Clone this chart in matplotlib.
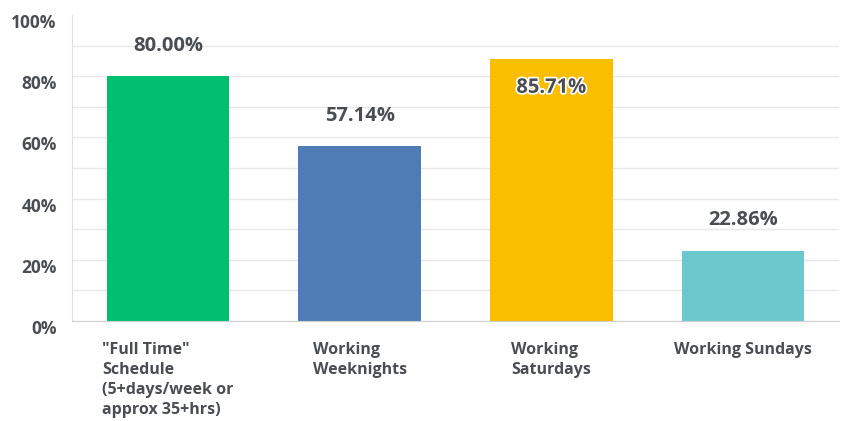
import matplotlib
matplotlib.use("Agg")
import matplotlib.pyplot as plt
import matplotlib.transforms as mtransforms
from matplotlib import patheffects

# Share of respondents per schedule category
categories = [
    '"Full Time"\nSchedule\n(5+days/week or\napprox 35+hrs)',
    "Working\nWeeknights",
    "Working\nSaturdays",
    "Working Sundays",
]
values = [80.00, 57.14, 85.71, 22.86]
colors = ["#00bf6f", "#507cb6", "#f9be00", "#6bc8cd"]
y_ticks = [0, 20, 40, 60, 80, 100]

plt.rcParams["font.family"] = ["Open Sans", "DejaVu Sans"]
text_color = "#4a4d52"

fig = plt.figure(figsize=(8.45, 4.21), dpi=100)
ax = fig.add_axes([72 / 845, 100 / 421, 767 / 845, 306 / 421])

x = range(len(values))
ax.bar(x, values, width=0.64, color=colors, zorder=2)

ax.set_xlim(-0.5, len(values) - 0.5)
ax.set_ylim(0, 100)

# light gridlines every 10%, labels every 20%
ax.set_yticks(y_ticks)
ax.set_yticks(range(10, 100, 20), minor=True)
ax.set_yticklabels([f"{t}%" for t in y_ticks])
ax.grid(axis="y", which="both", color="#e8e8e8", linewidth=1, zorder=0)
ax.yaxis.get_gridlines()[-1].set_visible(False)
ax.tick_params(axis="y", which="both", length=0, pad=11,
               labelsize=12.5, labelcolor=text_color)
shift = mtransforms.ScaledTranslation(0, -6 / 100, fig.dpi_scale_trans)
for lbl in ax.get_yticklabels():
    lbl.set_fontweight("bold")
    lbl.set_transform(lbl.get_transform() + shift)

ax.set_xticks(list(x))
ax.set_xticklabels(categories, fontsize=11.5, fontweight="bold",
                   color=text_color, ha="center", va="top",
                   multialignment="left", linespacing=1.33)
ax.tick_params(axis="x", length=0, pad=15)

for side in ("top", "right"):
    ax.spines[side].set_visible(False)
ax.spines["left"].set_color("#e0e0e0")
ax.spines["bottom"].set_color("#cfcfcf")

# value labels: above the bar, or inside it when there is no room
for xi, v in zip(x, values):
    if v + 10 > 95:
        t = ax.text(xi, v - 9.5, f"{v:.2f}%", ha="center", va="center",
                    fontsize=14.5, fontweight="bold", color=text_color,
                    zorder=3)
        t.set_path_effects([patheffects.withStroke(linewidth=2.5,
                                                   foreground="white")])
    else:
        ax.text(xi, v + 10, f"{v:.2f}%", ha="center", va="center",
                fontsize=14.5, fontweight="bold", color=text_color,
                zorder=3)

fig.savefig("out.png", dpi=100)
